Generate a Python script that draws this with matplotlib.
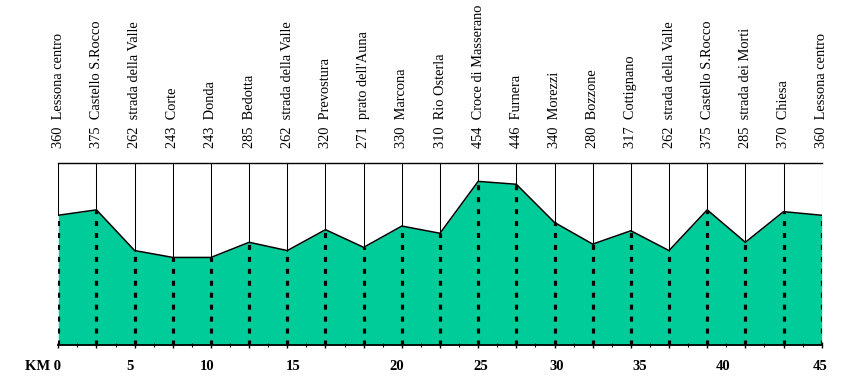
import matplotlib.pyplot as plt
from matplotlib.ticker import FixedLocator

# stations along the route (equally spaced on the sheet)
names = ["Lessona centro", "Castello S.Rocco", "strada della Valle", "Corte", "Donda",
         "Bedotta", "strada della Valle", "Prevostura", "prato dell'Auna", "Marcona",
         "Rio Osterla", "Croce di Masserano", "Furnera", "Morezzi", "Bozzone",
         "Cottignano", "strada della Valle", "Castello S.Rocco", "strada dei Morti",
         "Chiesa", "Lessona centro"]
elev = [360, 375, 262, 243, 243, 285, 262, 320, 271, 330, 310, 454, 446, 340,
        280, 317, 262, 375, 285, 370, 360]

# km labels and where they sit along the station axis
km_labels = ["KM 0", "5", "10", "15", "20", "25", "30", "35", "40", "45"]
km_pos = [0.07, 1.88, 3.90, 6.15, 8.87, 11.07, 13.07, 15.24, 17.41, 19.95]

green = "#00CC99"
plt.rcParams['lines.scale_dashes'] = False
plt.rcParams['font.family'] = ['Liberation Serif', 'DejaVu Serif']

def main():
    fig = plt.figure(figsize=(8.48, 3.87), dpi=100)
    ax = fig.add_axes([58.3 / 848, 42 / 387, (821.7 - 58.3) / 848, 182 / 387])
    x = list(range(len(elev)))
    top = 505

    ax.fill_between(x, 0, elev, color=green, linewidth=0)
    ax.plot(x, elev, color="black", linewidth=1.1, solid_joinstyle="miter")
    for i, e in enumerate(elev):
        ax.plot([i, i], [e, top], color="black", linewidth=0.75)
        ax.plot([i, i], [0, e], color="black", linewidth=2.3,
                linestyle=(0, (3.6, 5.0)), dash_capstyle="butt")
        label = "{:d}  {}".format(e, names[i])
        ax.annotate(label, xy=(i, 1), xycoords=("data", "axes fraction"),
                    xytext=(0, 11), textcoords="offset points",
                    rotation=90, ha="center", va="bottom", fontsize=10.4)

    ax.set_xlim(0, 20)
    ax.set_ylim(0, top)
    for s in ["left", "right"]:
        ax.spines[s].set_visible(False)
    ax.spines["top"].set_linewidth(1.0)
    ax.spines["bottom"].set_linewidth(1.3)
    ax.set_yticks([])
    ax.xaxis.set_major_locator(FixedLocator(x))
    ax.xaxis.set_minor_locator(FixedLocator([i + 0.5 for i in x[:-1]]))
    ax.tick_params(axis="x", which="major", direction="inout", length=5, width=1.0,
                   labelbottom=False)
    ax.tick_params(axis="x", which="minor", direction="inout", length=3.5, width=0.8)

    for lab, p in zip(km_labels, km_pos):
        ax.text(p, -0.085, lab, transform=ax.get_xaxis_transform(),
                ha="right" if lab.startswith("KM") else "center", va="top",
                fontsize=10.5, fontweight="bold")

    fig.savefig("out.png", dpi=100)

if __name__ == "__main__":
    main()
